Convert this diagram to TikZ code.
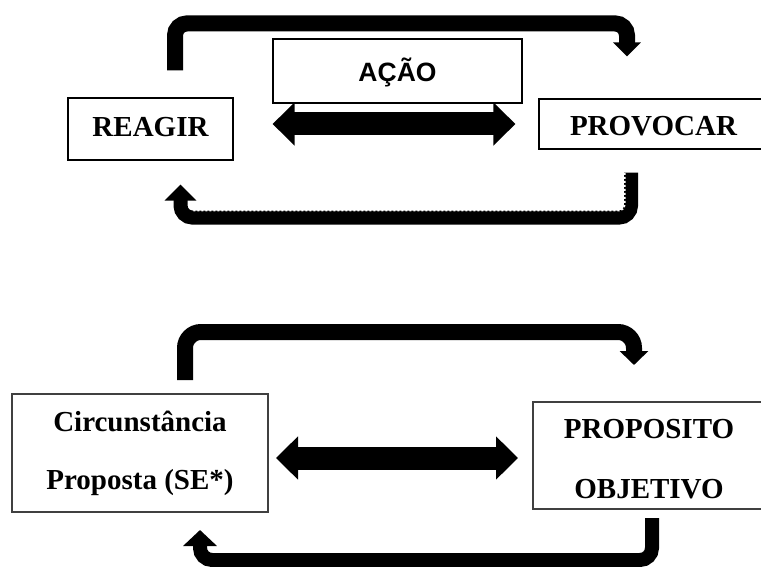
\documentclass[tikz,border=0pt]{standalone}
\usepackage{fontspec}
\setmainfont{Liberation Serif}
\newfontfamily\acaofont{Liberation Sans}
\usetikzlibrary{arrows.meta}

\begin{document}
\begin{tikzpicture}[x=1pt, y=-1pt,
        caixa/.style={draw=black, line width=1.2pt, fill=white, inner sep=0pt,
                            font=\bfseries\fontsize{29}{58}\selectfont},
        caixacinza/.style={caixa, draw=black!75, line width=2pt, align=center},
        laco/.style={line width=16pt, rounded corners=12pt,
                            -{Triangle[width=27pt,length=14pt]}},
        duplo/.style={line width=23pt,
                            {Triangle[width=42pt,length=22pt]}-{Triangle[width=42pt,length=22pt]}},
        serrilha/.style={white, line width=2pt, dash pattern=on 2pt off 2pt}]
                \useasboundingbox (0,0) rectangle (761,567);

                % ciclo de cima
                \node[caixa, minimum width=165, minimum height=62, text height=20pt, text depth=4pt]
                        (reagir) at (150.5,129) {REAGIR};
                \node[caixa, minimum width=249, minimum height=64, text height=22pt, text depth=0pt,
                        font=\acaofont\bfseries\fontsize{26.5}{30}\selectfont]
                        (acao) at (397.5,71) {AÇÃO};
                \node[caixa, minimum width=229, minimum height=50, text height=24pt, text depth=0pt]
                        (provocar) at (653.5,124) {PROVOCAR};

                \draw[laco] ([xshift=24.5pt,yshift=27pt]reagir.north) -- ++(0,-47)
                        -| ([xshift=-26.5pt,yshift=42pt]provocar.north);
                \draw[laco, line width=14pt, -{Triangle[width=31pt,length=16pt]}]
                        ([xshift=-22.5pt,yshift=-23pt]provocar.south) -- ++(0,45)
                        -| ([xshift=30pt,yshift=-24pt]reagir.south);
                \draw[serrilha, rounded corners=6pt] (624.5,173) |- (192,210.5);
                \draw[duplo] ([xshift=39pt,yshift=5pt]reagir.east) -- ([xshift=-23pt]provocar.west);

                % ciclo de baixo
                \node[caixacinza, minimum width=256, minimum height=118]
                        (circ) at (140,453) {Circunstância\\Proposta (SE*)};
                \node[caixacinza, minimum width=232, minimum height=107, font=\bfseries\fontsize{29}{60}\selectfont]
                        (proposito) at (649,455.5) {\rule{0pt}{25.6pt}PROPOSITO\\OBJETIVO};

                \draw[laco, rounded corners=16pt, -{Triangle[width=28pt,length=14pt]}]
                        ([xshift=45pt,yshift=13pt]circ.north) -- ++(0,-48)
                        -| ([xshift=-15pt,yshift=36pt]proposito.north);
                \draw[laco, line width=14pt, -{Triangle[width=33pt,length=16pt]}]
                        ([xshift=3pt,yshift=-8pt]proposito.south) -- ++(0,42)
                        -| ([xshift=60pt,yshift=-17pt]circ.south);
                \draw[duplo] ([xshift=7pt,yshift=-5pt]circ.east) -- ([xshift=-14pt,yshift=-2.5pt]proposito.west);
\end{tikzpicture}
\end{document}
